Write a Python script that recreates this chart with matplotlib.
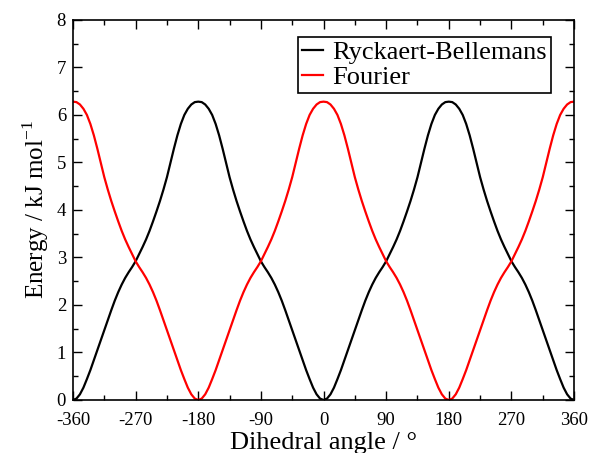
import matplotlib
matplotlib.use("Agg")
import matplotlib.pyplot as plt
from matplotlib.ticker import MultipleLocator

plt.rcParams['font.family'] = ['Liberation Serif', 'DejaVu Serif']
plt.rcParams['mathtext.fontset'] = 'custom'
plt.rcParams['mathtext.rm'] = 'Liberation Serif'

# Dihedral angle, every 5 degrees from -360 to 360
angles = list(range(-360, 361, 5))

rb_energy = [
    0.00, 0.03, 0.12, 0.26, 0.44, 0.63, 0.84, 1.05, 1.26, 1.47, 1.68, 1.89, 2.09, 2.27, 2.43, 2.57, 2.69, 2.80, 2.92,
    3.07, 3.22, 3.38, 3.56, 3.76, 3.97, 4.19, 4.43, 4.69, 4.99, 5.29, 5.57, 5.81, 6.00, 6.13, 6.22, 6.27, 6.28,
    6.27, 6.22, 6.13, 6.00, 5.81, 5.57, 5.29, 4.99, 4.69, 4.43, 4.19, 3.97, 3.76, 3.56, 3.38, 3.22, 3.07, 2.92,
    2.80, 2.69, 2.57, 2.43, 2.27, 2.09, 1.89, 1.68, 1.47, 1.26, 1.05, 0.84, 0.63, 0.44, 0.26, 0.12, 0.03, 0.00,
    0.03, 0.12, 0.26, 0.44, 0.63, 0.84, 1.05, 1.26, 1.47, 1.68, 1.89, 2.09, 2.27, 2.43, 2.57, 2.69, 2.80, 2.92,
    3.07, 3.22, 3.38, 3.56, 3.76, 3.97, 4.19, 4.43, 4.69, 4.99, 5.29, 5.57, 5.81, 6.00, 6.13, 6.22, 6.27, 6.28,
    6.27, 6.22, 6.13, 6.00, 5.81, 5.57, 5.29, 4.99, 4.69, 4.43, 4.19, 3.97, 3.76, 3.56, 3.38, 3.22, 3.07, 2.92,
    2.80, 2.69, 2.57, 2.43, 2.27, 2.09, 1.89, 1.68, 1.47, 1.26, 1.05, 0.84, 0.63, 0.44, 0.26, 0.12, 0.03, 0.00,
]

fourier_energy = [
    6.28, 6.27, 6.22, 6.13, 6.00, 5.81, 5.57, 5.29, 4.99, 4.69, 4.43, 4.19, 3.97, 3.76, 3.56, 3.38, 3.22, 3.07, 2.92,
    2.80, 2.69, 2.57, 2.43, 2.27, 2.09, 1.89, 1.68, 1.47, 1.26, 1.05, 0.84, 0.63, 0.44, 0.26, 0.12, 0.03, 0.00,
    0.03, 0.12, 0.26, 0.44, 0.63, 0.84, 1.05, 1.26, 1.47, 1.68, 1.89, 2.09, 2.27, 2.43, 2.57, 2.69, 2.80, 2.92,
    3.07, 3.22, 3.38, 3.56, 3.76, 3.97, 4.19, 4.43, 4.69, 4.99, 5.29, 5.57, 5.81, 6.00, 6.13, 6.22, 6.27, 6.28,
    6.27, 6.22, 6.13, 6.00, 5.81, 5.57, 5.29, 4.99, 4.69, 4.43, 4.19, 3.97, 3.76, 3.56, 3.38, 3.22, 3.07, 2.92,
    2.80, 2.69, 2.57, 2.43, 2.27, 2.09, 1.89, 1.68, 1.47, 1.26, 1.05, 0.84, 0.63, 0.44, 0.26, 0.12, 0.03, 0.00,
    0.03, 0.12, 0.26, 0.44, 0.63, 0.84, 1.05, 1.26, 1.47, 1.68, 1.89, 2.09, 2.27, 2.43, 2.57, 2.69, 2.80, 2.92,
    3.07, 3.22, 3.38, 3.56, 3.76, 3.97, 4.19, 4.43, 4.69, 4.99, 5.29, 5.57, 5.81, 6.00, 6.13, 6.22, 6.27, 6.28,
]

series_labels = ["Ryckaert-Bellemans", "Fourier"]
x_ticks = [-360, -270, -180, -90, 0, 90, 180, 270, 360]

fig = plt.figure(figsize=(5.9, 4.53), dpi=100)
ax = fig.add_axes([0.1237, 0.117, 0.8493, 0.839])

ax.plot(angles, rb_energy, color='black', lw=1.6, label=series_labels[0])
ax.plot(angles, fourier_energy, color='red', lw=1.6, label=series_labels[1])

ax.set_xlim(-360, 360)
ax.set_ylim(0, 8)
ax.set_xticks(x_ticks)
ax.set_xticklabels([str(v) for v in x_ticks])
ax.xaxis.set_minor_locator(MultipleLocator(45))
ax.yaxis.set_major_locator(MultipleLocator(1))
ax.yaxis.set_minor_locator(MultipleLocator(0.5))

ax.tick_params(which='both', direction='in', top=True, right=True, width=1.0, labelsize=13.5)
ax.tick_params(which='major', length=6.5)
ax.tick_params(which='minor', length=3.5)
ax.tick_params(axis='x', which='major', pad=9)
ax.tick_params(axis='y', which='major', pad=5)
for s in ax.spines.values():
    s.set_linewidth(1.2)

ax.set_xlabel("Dihedral angle / °", fontsize=19, labelpad=2)
ax.set_ylabel("Energy / kJ mol$^{-1}$", fontsize=18, labelpad=4)

leg = ax.legend(loc='upper right', bbox_to_anchor=(0.953, 0.955), fontsize=19,
                frameon=True, fancybox=False, edgecolor='black', framealpha=1,
                handlelength=0.8, handletextpad=0.35, borderpad=0.15, labelspacing=0.05,
                borderaxespad=0)
leg.get_frame().set_linewidth(1.2)

fig.savefig("out.png", dpi=100)
